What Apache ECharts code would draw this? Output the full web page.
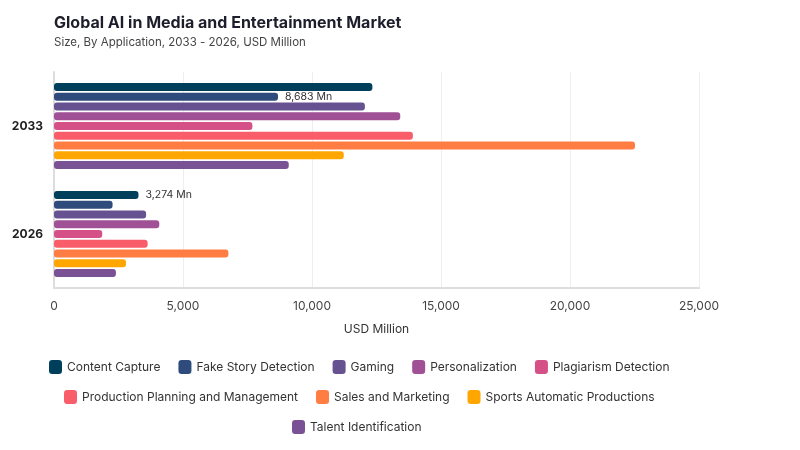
<!DOCTYPE html>
<html>
<head>
<meta charset="utf-8">
<script src="https://cdn.jsdelivr.net/npm/echarts@6/dist/echarts.min.js"></script>
<style>
  html, body { margin: 0; padding: 0; background: #fff; }
  #main { width: 800px; height: 450px; }
</style>
</head>
<body>
<div id="main"></div>
<script>
var years = ['2033', '2026'];
var contentCapture = [12340, 3274];
var fakeStory = [8683, 2270];
var gaming = [12050, 3570];
var personalization = [13420, 4080];
var plagiarism = [7690, 1870];
var production = [13910, 3630];
var sales = [22520, 6760];
var sports = [11230, 2790];
var talent = [9100, 2400];

var names = ['Content Capture', 'Fake Story Detection', 'Gaming', 'Personalization',
  'Plagiarism Detection', 'Production Planning and Management', 'Sales and Marketing',
  'Sports Automatic Productions', 'Talent Identification'];
var colors = ['#003f5c', '#2f4b7c', '#665191', '#a05195', '#d45087', '#f95d6a', '#ff7c43', '#ffa600', '#7a5195'];
var values = [contentCapture, fakeStory, gaming, personalization, plagiarism, production, sales, sports, talent];

// which bar carries a value label: [series index, year index]
var labelled = [[1, 0], [0, 1]];

var chart = echarts.init(document.getElementById('main'));

var font = 'Inter';

function fmt(v) {
  return v.toLocaleString('en-US') + ' Mn';
}

var series = [];
for (var i = 0; i < names.length; i++) {
  var data = [];
  for (var j = 0; j < years.length; j++) {
    var item = { value: values[i][j] };
    for (var k = 0; k < labelled.length; k++) {
      if (labelled[k][0] === i && labelled[k][1] === j) {
        item.label = {
          show: true,
          position: 'right',
          distance: 7,
          formatter: function (p) { return fmt(p.value); },
          color: '#333',
          fontSize: 10.5,
          fontFamily: font
        };
      }
    }
    data.push(item);
  }
  series.push({
    name: names[i],
    type: 'bar',
    barWidth: 8,
    barGap: '22%',
    itemStyle: { color: colors[i], borderRadius: 3 },
    data: data
  });
}

var legendStyle = {
  icon: 'roundRect',
  itemWidth: 13,
  itemHeight: 14,
  itemGap: 18,
  textStyle: { color: '#333', fontSize: 12, fontFamily: font }
};

var option = {
  backgroundColor: '#fff',
  color: colors,
  title: {
    text: 'Global AI in Media and Entertainment Market',
    subtext: 'Size, By Application, 2033 - 2026, USD Million',
    left: 49,
    top: 10,
    itemGap: 6,
    textStyle: { fontSize: 16, fontWeight: 'bold', color: '#1d1d2b', fontFamily: font },
    subtextStyle: { fontSize: 11.5, color: '#444', fontFamily: font }
  },
  legend: [
    Object.assign({ data: names.slice(0, 5), left: 44, top: 355 }, legendStyle),
    Object.assign({ data: names.slice(5, 8), left: 59, top: 385 }, legendStyle),
    Object.assign({ data: names.slice(8), left: 287, top: 415 }, legendStyle)
  ],
  grid: {
    left: 54,
    right: 101,
    top: 72,
    bottom: 162
  },
  xAxis: {
    type: 'value',
    min: 0,
    max: 25000,
    interval: 5000,
    name: 'USD Million',
    nameLocation: 'middle',
    nameGap: 35,
    nameTextStyle: { color: '#333', fontSize: 12, fontFamily: font },
    axisLine: { show: true, lineStyle: { color: '#ddd', width: 2 } },
    axisTick: { show: false },
    axisLabel: {
      color: '#444',
      fontSize: 12,
      fontFamily: font,
      margin: 12,
      formatter: function (v) { return v.toLocaleString('en-US'); }
    },
    splitLine: { show: true, lineStyle: { color: '#eee' } }
  },
  yAxis: {
    type: 'category',
    data: years,
    inverse: true,
    axisLine: { show: true, lineStyle: { color: '#ddd', width: 2 } },
    axisTick: { show: false },
    axisLabel: {
      color: '#222',
      fontSize: 12,
      fontWeight: 'bold',
      fontFamily: font,
      margin: 11
    }
  },
  series: series
};

chart.setOption(option);
</script>
</body>
</html>
